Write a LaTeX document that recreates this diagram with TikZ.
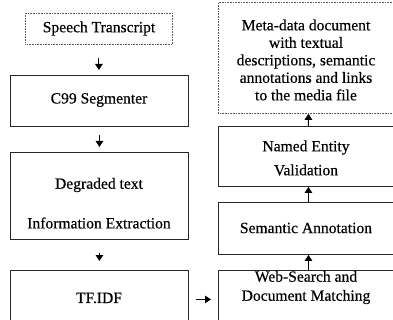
\documentclass[tikz,border=0pt]{standalone}
\usepackage{fontspec}
\setmainfont{Liberation Serif}[FakeBold=0.35]
\usetikzlibrary{arrows.meta}
\begin{document}
\begin{tikzpicture}[x=1pt,y=-1pt,
  box/.style={draw=black!85, line width=0.9pt, inner sep=0pt, anchor=north west},
  dotbox/.style={draw=black!65, line width=0.8pt, dash pattern=on 0.8pt off 0.8pt, inner sep=0pt, anchor=north west},
  txt/.style={font=\fontsize{15.6}{17.5}\selectfont, align=center, inner sep=0pt},
  arr/.style={-{Triangle[length=6pt,width=7.5pt]}, line width=1pt}]
\useasboundingbox (0,0) rectangle (393,320);
\clip (0,0) rectangle (393,320);
% left column
\node[dotbox, minimum width=147pt, minimum height=31pt] (st) at (25,13) {};
\node[txt] (stt) at (99,28.5) {Speech Transcript};
\node[box, minimum width=178pt, minimum height=51pt] (c99) at (10,75) {};
\node[txt] (c99t) at (99,100) {C99 Segmenter};
\node[box, minimum width=178pt, minimum height=87pt] (deg) at (10,152) {};
\node[txt] (degt1) at (99,185) {Degraded text};
\node[txt] (degt2) at (99,223) {Information Extraction};
\node[box, minimum width=178pt, minimum height=70pt] (tf) at (10,270) {};
\node[txt] (tft) at (99,298) {TF.IDF};
% right column
\node[dotbox, minimum width=177pt, minimum height=111pt] (meta) at (218,2) {};
\node[txt, font=\fontsize{15.6}{17.5}\selectfont] (metat) at (306,60) {Meta-data document\\with textual\\descriptions, semantic\\annotations and links\\to the media file};
\node[box, minimum width=177pt, minimum height=60pt] (ne) at (218,126) {};
\node[txt, font=\fontsize{15.6}{24}\selectfont] (net) at (306,158) {Named Entity\\Validation};
\node[box, minimum width=177pt, minimum height=52pt] (sa) at (218,202) {};
\node[txt] (sat) at (306,228) {Semantic Annotation};
\node[box, minimum width=177pt, minimum height=70pt] (web) at (218,270) {};
\node[txt, font=\fontsize{15.6}{19}\selectfont] (webt) at (306,287.5) {Web-Search and\\Document Matching};
% arrows
\draw[arr, shorten <=13pt, shorten >=5pt] (st.south) -- (st.south |- c99.north);
\draw[arr, shorten <=8pt, shorten >=5pt] (c99.south) -- (deg.north);
\draw[arr, shorten <=13pt, shorten >=9pt] (deg.south) -- (tf.north);
\draw[arr, shorten <=7pt, shorten >=7pt] ([yshift=6pt]tf.east) -- ([yshift=6pt]web.west);
\draw[arr] ([xshift=1.5pt]web.north) -- ([xshift=1.5pt]sa.south);
\draw[arr] ([xshift=1.5pt]sa.north) -- ([xshift=1.5pt]ne.south);
\draw[arr] ([xshift=1.5pt]ne.north) -- ([xshift=1.5pt]meta.south);
\end{tikzpicture}
\end{document}
